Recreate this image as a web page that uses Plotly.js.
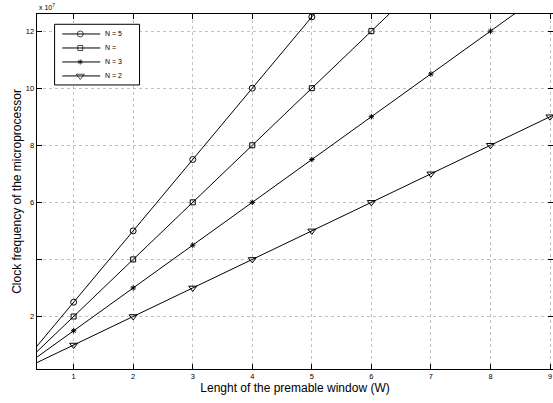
<!DOCTYPE html>
<html><head><meta charset="utf-8">
<script src="https://cdn.plot.ly/plotly-3.0.1.min.js"></script>
<style>html,body{margin:0;padding:0;background:#fff}#chart{width:553px;height:403px}</style>
</head><body><div id="chart"></div>
<script>
// Window length W
const W = [0, 1, 2, 3, 4, 5, 6, 7, 8, 9, 10];
// Clock frequency (units of 1e7)
const N5 = [0, 2.5, 5, 7.5, 10, 12.5, 15, 17.5, 20, 22.5, 25];
const N4 = [0, 2, 4, 6, 8, 10, 12, 14, 16, 18, 20];
const N3 = [0, 1.5, 3, 4.5, 6, 7.5, 9, 10.5, 12, 13.5, 15];
const N2 = [0, 1, 2, 3, 4, 5, 6, 7, 8, 9, 10];
const seriesNames = ["N = 5", "N =", "N = 3", "N = 2"];
const seriesData = [N5, N4, N3, N2];
const symbols = ["circle-open", "square-open", "asterisk-open", "triangle-down-open"];
const symSizes = [6, 5, 4.5, 7];
const xTicks = [1, 2, 3, 4, 5, 6, 7, 8, 9];
const yTicks = [2, 6, 8, 10, 12];
const yMinorTicks = [4];

const gridDash = "dot";
const gridColor = "#a8a8a8";

const traces = seriesData.map((ys, i) => ({
  x: W, y: ys, type: "scatter", mode: "lines+markers", name: seriesNames[i],
  line: {color: "black", width: 1},
  marker: {symbol: symbols[i], size: symSizes[i], color: "black", line: {color: "black", width: 1}},
  showlegend: false, xaxis: "x", yaxis: "y", cliponaxis: true
}));

// manual legend drawn on a pixel-like overlay axis pair
const box = {x0: 54.3, x1: 139.3, y0: 24.3, y1: 85};
const legY = [34, 48, 62, 76];
traces.push({
  x: [box.x0, box.x1, box.x1, box.x0, box.x0], y: [box.y0, box.y0, box.y1, box.y1, box.y0],
  type: "scatter", mode: "lines", fill: "toself", fillcolor: "white",
  line: {color: "black", width: 1}, xaxis: "x2", yaxis: "y2", showlegend: false, hoverinfo: "skip"
});
const lx = [], ly = [];
legY.forEach(y => { lx.push(62, 100, null); ly.push(y, y, null); });
traces.push({x: lx, y: ly, type: "scatter", mode: "lines", line: {color: "black", width: 1},
  xaxis: "x2", yaxis: "y2", showlegend: false, hoverinfo: "skip"});
traces.push({
  x: legY.map(() => 80), y: legY, type: "scatter", mode: "markers",
  marker: {symbol: symbols, size: symSizes, color: "black", line: {color: "black", width: 1}},
  xaxis: "x2", yaxis: "y2", showlegend: false, hoverinfo: "skip"
});
const annotations = legY.map((y, i) => ({xref: "x2", yref: "y2", x: 103, y: y, text: seriesNames[i],
  showarrow: false, xanchor: "left", yanchor: "middle", font: {size: 7, color: "black"}}));
annotations.push({xref: "paper", yref: "paper", x: 0, y: 1, xanchor: "left", yanchor: "bottom", yshift: 1,
  text: "x 10<sup>7</sup>", showarrow: false, font: {size: 7, color: "black"}});

const layout = {
  width: 553, height: 403,
  margin: {l: 36.7, r: 0, t: 14, b: 33.7},
  paper_bgcolor: "white", plot_bgcolor: "white",
  font: {family: "Liberation Sans, Arial, sans-serif", color: "black"},
  xaxis: {range: [0.385, 9.05], tickvals: xTicks, ticks: "inside", ticklen: 5, tickwidth: 1, tickcolor: "black",
    showline: true, linecolor: "black", linewidth: 1.3, mirror: "ticks", zeroline: false,
    showgrid: true, gridcolor: gridColor, griddash: gridDash, gridwidth: 0.7,
    tickfont: {size: 7.5}, title: {text: "Lenght of the premable window (W)", font: {size: 12}, standoff: 0}},
  yaxis: {range: [0.16, 12.6], tickvals: yTicks, ticks: "inside", ticklen: 5, tickwidth: 1, tickcolor: "black",
    showline: true, linecolor: "black", linewidth: 1.3, mirror: "ticks", zeroline: false,
    showgrid: true, gridcolor: gridColor, griddash: gridDash, gridwidth: 0.7,
    minor: {tickvals: yMinorTicks, ticks: "inside", ticklen: 5, tickwidth: 1, tickcolor: "black",
      showgrid: true, gridcolor: gridColor, griddash: gridDash, gridwidth: 0.7},
    tickfont: {size: 7.5}, title: {text: "Clock frequency of the microprocessor", font: {size: 12}, standoff: 1}},
  xaxis2: {overlaying: "x", range: [36.7, 553], visible: false, fixedrange: true},
  yaxis2: {overlaying: "y", range: [369.3, 14], visible: false, fixedrange: true},
  annotations: annotations, showlegend: false
};
Plotly.newPlot("chart", traces, layout, {displayModeBar: false, staticPlot: true});
</script></body></html>
